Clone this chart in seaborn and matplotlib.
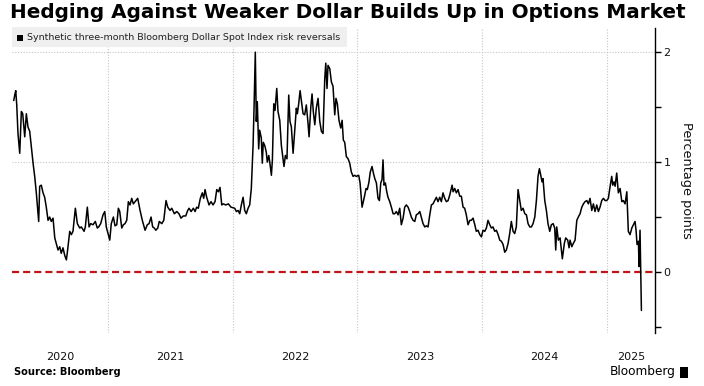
import numpy as np
import pandas as pd
import matplotlib
matplotlib.use("Agg")
import matplotlib.pyplot as plt
from matplotlib.patches import Rectangle
import seaborn as sns

# ---- data (decimal year, risk reversal in percentage points) ----
t_2020 = [2020.244, 2020.252, 2020.260, 2020.268, 2020.278, 2020.292, 2020.305, 2020.316, 2020.332, 2020.345,
          2020.358, 2020.372, 2020.385, 2020.399, 2020.412, 2020.425, 2020.444, 2020.452, 2020.465, 2020.479,
          2020.492, 2020.505, 2020.519, 2020.532, 2020.545, 2020.559, 2020.573, 2020.585, 2020.599, 2020.613,
          2020.625, 2020.639, 2020.653, 2020.666, 2020.674, 2020.693, 2020.706, 2020.719, 2020.738, 2020.754,
          2020.773, 2020.786, 2020.808, 2020.818, 2020.834, 2020.848, 2020.861, 2020.880, 2020.898, 2020.914,
          2020.925, 2020.941, 2020.960, 2020.974, 2020.986]
v_2020 = [1.56, 1.61, 1.65, 1.52, 1.26, 1.08, 1.46, 1.44, 1.23, 1.44,
          1.32, 1.28, 1.14, 0.99, 0.87, 0.72, 0.46, 0.78, 0.79, 0.72,
          0.68, 0.59, 0.47, 0.50, 0.46, 0.49, 0.31, 0.26, 0.20, 0.23,
          0.17, 0.22, 0.15, 0.11, 0.18, 0.37, 0.34, 0.37, 0.58, 0.44,
          0.40, 0.41, 0.37, 0.41, 0.59, 0.41, 0.44, 0.43, 0.46, 0.40,
          0.41, 0.44, 0.52, 0.55, 0.41]

t_2021 = [2021.000, 2021.014, 2021.026, 2021.043, 2021.056, 2021.070, 2021.083, 2021.094, 2021.110, 2021.123,
          2021.136, 2021.150, 2021.163, 2021.176, 2021.190, 2021.203, 2021.217, 2021.238, 2021.257, 2021.275,
          2021.297, 2021.315, 2021.329, 2021.345, 2021.358, 2021.371, 2021.383, 2021.399, 2021.411, 2021.431,
          2021.447, 2021.465, 2021.479, 2021.497, 2021.511, 2021.532, 2021.551, 2021.569, 2021.585, 2021.604,
          2021.623, 2021.639, 2021.650, 2021.666, 2021.684, 2021.698, 2021.711, 2021.724, 2021.740, 2021.756,
          2021.767, 2021.778, 2021.791, 2021.810, 2021.826, 2021.842, 2021.858, 2021.872, 2021.885, 2021.898,
          2021.912, 2021.925, 2021.944, 2021.965, 2021.986]
v_2021 = [0.35, 0.29, 0.44, 0.50, 0.42, 0.43, 0.58, 0.55, 0.40, 0.43,
          0.44, 0.47, 0.64, 0.61, 0.67, 0.62, 0.64, 0.67, 0.56, 0.47,
          0.38, 0.43, 0.44, 0.50, 0.41, 0.40, 0.38, 0.40, 0.46, 0.44,
          0.47, 0.65, 0.59, 0.56, 0.58, 0.53, 0.55, 0.53, 0.49, 0.51,
          0.51, 0.56, 0.58, 0.55, 0.58, 0.55, 0.59, 0.58, 0.67, 0.72,
          0.67, 0.75, 0.68, 0.61, 0.64, 0.61, 0.64, 0.75, 0.73, 0.77,
          0.61, 0.62, 0.61, 0.62, 0.59]

t_2022 = [2022.016, 2022.029, 2022.043, 2022.056, 2022.069, 2022.083, 2022.096, 2022.109, 2022.123, 2022.136,
          2022.149, 2022.163, 2022.171, 2022.181, 2022.189, 2022.197, 2022.208, 2022.216, 2022.229, 2022.237,
          2022.245, 2022.257, 2022.269, 2022.277, 2022.289, 2022.297, 2022.310, 2022.318, 2022.329, 2022.339,
          2022.353, 2022.363, 2022.377, 2022.390, 2022.403, 2022.411, 2022.422, 2022.435, 2022.449, 2022.459,
          2022.470, 2022.484, 2022.497, 2022.510, 2022.518, 2022.529, 2022.540, 2022.550, 2022.564, 2022.577,
          2022.590, 2022.604, 2022.612, 2022.626, 2022.636, 2022.646, 2022.658, 2022.670, 2022.684, 2022.698,
          2022.711, 2022.724, 2022.738, 2022.746, 2022.756, 2022.764, 2022.778, 2022.791, 2022.804, 2022.818,
          2022.828, 2022.839, 2022.852, 2022.866, 2022.877, 2022.887, 2022.898, 2022.911, 2022.925, 2022.938,
          2022.951, 2022.965, 2022.978, 2022.991]
v_2022 = [0.58, 0.55, 0.56, 0.53, 0.61, 0.68, 0.56, 0.53, 0.58, 0.61,
          0.76, 1.15, 1.50, 2.00, 1.37, 1.55, 1.12, 1.29, 1.22, 0.99,
          1.18, 1.15, 1.09, 1.00, 1.06, 1.00, 0.88, 1.02, 1.53, 1.47,
          1.67, 1.46, 1.38, 1.15, 1.03, 0.96, 1.06, 1.03, 1.61, 1.37,
          1.32, 1.08, 1.28, 1.49, 1.44, 1.53, 1.65, 1.56, 1.44, 1.43,
          1.52, 1.35, 1.23, 1.50, 1.62, 1.46, 1.34, 1.49, 1.58, 1.37,
          1.28, 1.26, 1.76, 1.90, 1.67, 1.88, 1.85, 1.73, 1.69, 1.43,
          1.58, 1.53, 1.38, 1.31, 1.38, 1.20, 1.18, 1.05, 1.03, 0.99,
          0.91, 0.87, 0.88, 0.87]

t_2023 = [2023.010, 2023.021, 2023.037, 2023.053, 2023.069, 2023.079, 2023.091, 2023.103, 2023.117, 2023.128,
          2023.139, 2023.152, 2023.165, 2023.176, 2023.187, 2023.197, 2023.205, 2023.213, 2023.224, 2023.235,
          2023.245, 2023.259, 2023.272, 2023.286, 2023.299, 2023.312, 2023.326, 2023.339, 2023.352, 2023.366,
          2023.379, 2023.392, 2023.406, 2023.419, 2023.432, 2023.446, 2023.460, 2023.472, 2023.486, 2023.500,
          2023.512, 2023.526, 2023.540, 2023.553, 2023.566, 2023.580, 2023.593, 2023.606, 2023.620, 2023.633,
          2023.646, 2023.660, 2023.673, 2023.686, 2023.700, 2023.713, 2023.727, 2023.740, 2023.759, 2023.767,
          2023.780, 2023.793, 2023.807, 2023.820, 2023.833, 2023.847, 2023.860, 2023.873, 2023.887, 2023.901,
          2023.913, 2023.927, 2023.941, 2023.953, 2023.967, 2023.981, 2023.994]
v_2023 = [0.88, 0.81, 0.59, 0.67, 0.76, 0.75, 0.81, 0.91, 0.96, 0.90,
          0.85, 0.81, 0.67, 0.65, 0.81, 0.84, 1.02, 0.79, 0.81, 0.73,
          0.68, 0.64, 0.59, 0.53, 0.53, 0.55, 0.52, 0.58, 0.43, 0.49,
          0.59, 0.61, 0.59, 0.55, 0.50, 0.47, 0.46, 0.52, 0.53, 0.55,
          0.50, 0.44, 0.41, 0.42, 0.41, 0.52, 0.61, 0.62, 0.65, 0.68,
          0.64, 0.68, 0.64, 0.72, 0.67, 0.64, 0.65, 0.70, 0.79, 0.73,
          0.76, 0.72, 0.75, 0.69, 0.69, 0.59, 0.58, 0.52, 0.43, 0.47,
          0.47, 0.49, 0.43, 0.37, 0.38, 0.34, 0.32]

t_2024 = [2024.007, 2024.021, 2024.034, 2024.047, 2024.061, 2024.074, 2024.087, 2024.101, 2024.114, 2024.128,
          2024.141, 2024.154, 2024.168, 2024.181, 2024.194, 2024.208, 2024.221, 2024.234, 2024.248, 2024.261,
          2024.274, 2024.288, 2024.302, 2024.314, 2024.328, 2024.342, 2024.355, 2024.368, 2024.382, 2024.395,
          2024.408, 2024.422, 2024.435, 2024.448, 2024.459, 2024.470, 2024.480, 2024.488, 2024.502, 2024.515,
          2024.528, 2024.542, 2024.555, 2024.569, 2024.582, 2024.590, 2024.598, 2024.611, 2024.625, 2024.643,
          2024.659, 2024.670, 2024.686, 2024.697, 2024.705, 2024.719, 2024.731, 2024.745, 2024.759, 2024.771,
          2024.785, 2024.799, 2024.812, 2024.825, 2024.839, 2024.852, 2024.865, 2024.879, 2024.892, 2024.905,
          2024.919, 2024.932, 2024.945, 2024.959, 2024.972, 2024.986, 2024.999]
v_2024 = [0.38, 0.37, 0.40, 0.47, 0.43, 0.40, 0.41, 0.37, 0.38, 0.34,
          0.29, 0.28, 0.25, 0.18, 0.20, 0.26, 0.35, 0.46, 0.37, 0.35,
          0.41, 0.75, 0.65, 0.56, 0.58, 0.53, 0.52, 0.44, 0.41, 0.41,
          0.44, 0.50, 0.65, 0.87, 0.94, 0.88, 0.82, 0.85, 0.65, 0.56,
          0.44, 0.37, 0.43, 0.44, 0.40, 0.20, 0.41, 0.29, 0.31, 0.12,
          0.26, 0.31, 0.29, 0.22, 0.29, 0.23, 0.26, 0.29, 0.47, 0.50,
          0.53, 0.59, 0.62, 0.64, 0.65, 0.62, 0.67, 0.56, 0.62, 0.55,
          0.61, 0.55, 0.59, 0.65, 0.67, 0.65, 0.65]

t_2025 = [2025.012, 2025.026, 2025.039, 2025.047, 2025.058, 2025.066, 2025.079, 2025.092, 2025.106, 2025.120,
          2025.132, 2025.146, 2025.160, 2025.172, 2025.186, 2025.200, 2025.213, 2025.226, 2025.234, 2025.242,
          2025.253, 2025.258, 2025.266, 2025.272, 2025.277]
v_2025 = [0.67, 0.78, 0.87, 0.79, 0.82, 0.78, 0.90, 0.72, 0.76, 0.64,
          0.65, 0.62, 0.73, 0.37, 0.34, 0.40, 0.43, 0.46, 0.38, 0.25,
          0.28, 0.05, 0.38, 0.00, -0.35]

year_labels = ["2020", "2021", "2022", "2023", "2024", "2025"]
y_major = [0, 1, 2]
y_minor = [-0.5, 0.5, 1.5]

title = "Hedging Against Weaker Dollar Builds Up in Options Market"
legend_label = "Synthetic three-month Bloomberg Dollar Spot Index risk reversals"
y_title = "Percentage points"
source = "Source: Bloomberg"
brand = "Bloomberg"

df = pd.DataFrame({
    "year": t_2020 + t_2021 + t_2022 + t_2023 + t_2024 + t_2025,
    "rr": v_2020 + v_2021 + v_2022 + v_2023 + v_2024 + v_2025,
})

# ---- figure ----
sns.set_style("white")
plt.rcParams["font.family"] = ["DejaVu Sans"]

W, H = 704, 386
fig = plt.figure(figsize=(W / 100, H / 100), dpi=100)
ax = fig.add_axes([12 / W, 1 - 333 / H, (655 - 12) / W, (333 - 28) / H])

x0, x1 = 2020.230, 2025.386
ax.set_xlim(x0, x1)
ax.set_ylim(-0.555, 2.22)

# grid
for yr in range(2021, 2026):
    ax.axvline(yr, color="#c4c4c4", lw=0.8, ls=(0, (1, 1.5)), zorder=1)
for yv in [1, 2]:
    ax.axhline(yv, color="#c4c4c4", lw=0.8, ls=(0, (1, 1.5)), zorder=1)

ax.axhline(0, color="#c0141b", lw=1.6, ls=(0, (3.2, 1.8)), zorder=2)

sns.lineplot(data=df, x="year", y="rr", ax=ax, color="black", lw=1.1,
             zorder=3, legend=False, estimator=None, sort=False)

# spines
for s in ["top", "left", "bottom"]:
    ax.spines[s].set_visible(False)
ax.spines["right"].set_color("black")
ax.spines["right"].set_linewidth(1.0)

# y axis on right
ax.yaxis.tick_right()
ax.set_yticks(y_major)
ax.set_yticklabels([str(v) for v in y_major])
ax.set_yticks(y_minor, minor=True)
ax.tick_params(axis="y", which="both", direction="out", length=4, width=1,
               color="black", labelsize=8, pad=2, labelcolor="#111111")
ax.yaxis.set_label_position("right")
ax.set_ylabel(y_title, rotation=270, fontsize=9.3, labelpad=16, color="#111111")

# x axis: tick marks at year boundaries, labels centred on visible span
bounds = [x0] + list(range(2021, 2026)) + [x1]
mids = [(bounds[i] + bounds[i + 1]) / 2 for i in range(len(bounds) - 1)]
ax.set_xticks(list(range(2021, 2026)))
ax.set_xticklabels([""] * 5)
ax.tick_params(axis="x", which="major", direction="out", length=4, width=0.8,
               color="#b0b0b0")
ax.set_xticks(mids, minor=True)
ax.set_xticklabels(year_labels, minor=True)
ax.tick_params(axis="x", which="minor", length=0, labelsize=8, pad=14,
               labelcolor="#111111")
ax.set_xlabel("")

# legend box
box = Rectangle((12 / W, 1 - 47 / H), (347 - 12) / W, 20 / H,
                transform=fig.transFigure, facecolor="#efefef",
                edgecolor="none", zorder=5)
fig.add_artist(box)
sq = Rectangle((17 / W, 1 - 41 / H), 6 / W, 6 / H, transform=fig.transFigure,
               facecolor="black", edgecolor="none", zorder=6)
fig.add_artist(sq)
leg = fig.text(27 / W, 1 - 37.5 / H, legend_label, fontsize=7, va="center",
               ha="left", color="#222222", zorder=7)

ttl = fig.text(10 / W, 1 - 12.5 / H, title, fontsize=14, fontweight="bold",
               va="center", ha="left", color="black")
src = fig.text(14 / W, 1 - 372 / H, source, fontsize=7, fontweight="bold",
               va="center", ha="left", color="black")
brd = fig.text(676 / W, 1 - 372 / H, brand, fontsize=10, va="center",
               ha="right", color="black")
logo = Rectangle((680 / W, 1 - 378 / H), 8 / W, 11 / H, transform=fig.transFigure,
                 facecolor="black", edgecolor="none")
fig.add_artist(logo)

# fit text widths to reference
fig.canvas.draw()
r = fig.canvas.get_renderer()
for txt, target in [(ttl, 676), (leg, 314), (src, 107), (brd, 66)]:
    w = txt.get_window_extent(r).width
    txt.set_fontsize(txt.get_fontsize() * target / w)

fig.savefig("out.png", dpi=100)
